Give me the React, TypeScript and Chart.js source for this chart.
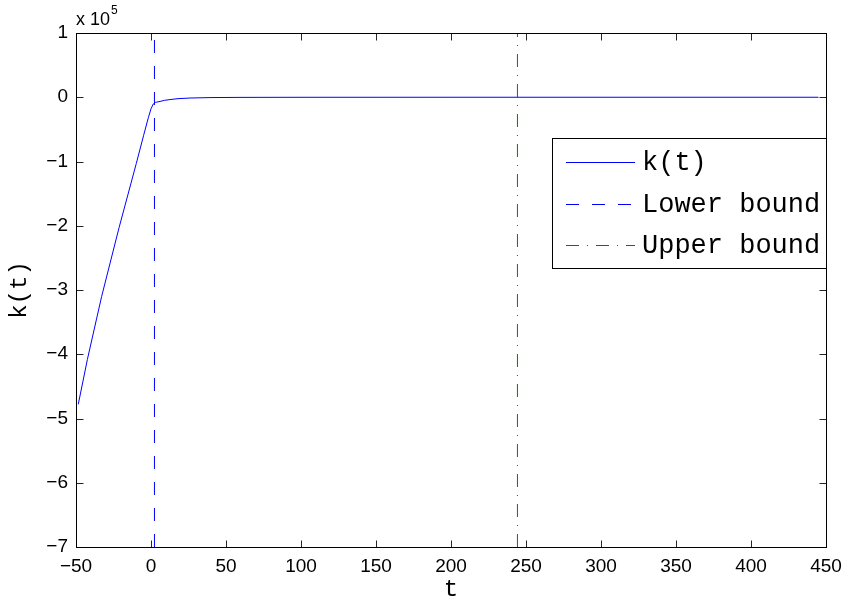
import React, { useEffect, useRef } from "react";
import { Chart, registerables } from "chart.js";

Chart.register(...registerables);

// k(t) curve samples (t, value)
const kT: number[] = [-48.5, -42.4, -32.9, -21.3, -9.8, -5, -1.8, 0, 1.5, 3, 6, 9, 12.7, 18, 26, 40, 60, 100, 200, 300, 445];
const kValues: number[] = [-478000, -408000, -310000, -203000, -103000, -60000, -32000, -18000, -10500, -8000, -6500, -4800, -3600, -2200, -1200, -500, -200, -50, 0, 0, 0];

const lowerBoundT = 2.3;
const upperBoundT = 244.3;

const xRange: number[] = [-50, 450];
const yRange: number[] = [-700000, 100000];
const xStep = 50;
const yStep = 100000;

const seriesLabels: string[] = ["k(t)", "Lower bound", "Upper bound"];
const xTitle = "t";
const yTitle = "k(t)";

const fmt = (v: number) => (v < 0 ? "\u2212" + String(Math.abs(v)) : String(v));

const matlabPlugin = {
  id: "matlab",
  afterDraw(chart: any) {
    const { ctx, chartArea: a, scales } = chart;
    const x = scales.x;
    const y = scales.y;
    const L = Math.round(a.left) + 0.5;
    const R = Math.round(a.right) + 0.5;
    const T = Math.round(a.top) + 0.5;
    const B = Math.round(a.bottom) + 0.5;
    ctx.save();
    // inward ticks
    ctx.strokeStyle = "#262626";
    ctx.lineWidth = 1;
    ctx.beginPath();
    x.ticks.forEach((t: any) => {
      const px = Math.round(x.getPixelForValue(t.value)) + 0.5;
      ctx.moveTo(px, B);
      ctx.lineTo(px, B - 7);
      ctx.moveTo(px, T);
      ctx.lineTo(px, T + 7);
    });
    y.ticks.forEach((t: any) => {
      const py = Math.round(y.getPixelForValue(t.value)) + 0.5;
      ctx.moveTo(L, py);
      ctx.lineTo(L + 7, py);
      ctx.moveTo(R, py);
      ctx.lineTo(R - 7, py);
    });
    ctx.stroke();
    // box
    ctx.strokeStyle = "#000";
    ctx.strokeRect(L, T, R - L, B - T);

    // exponent label
    ctx.fillStyle = "#000";
    ctx.textBaseline = "alphabetic";
    ctx.textAlign = "left";
    ctx.font = '18px "Liberation Sans"';
    const base = "x 10";
    ctx.fillText(base, 76, 25);
    const w = ctx.measureText(base).width;
    ctx.font = '12px "Liberation Sans"';
    ctx.fillText("5", 76 + w + 1, 14);

    // axis titles
    ctx.font = '24px "Liberation Mono"';
    ctx.textAlign = "center";
    ctx.textBaseline = "middle";
    ctx.fillText(xTitle, (a.left + a.right) / 2, 590);
    ctx.save();
    ctx.translate(20, (a.top + a.bottom) / 2);
    ctx.rotate(-Math.PI / 2);
    ctx.fillText(yTitle, 0, 0);
    ctx.restore();

    // legend
    const lx = 552.5, ly = 138.5, lw = R - lx, lh = 130;
    ctx.fillStyle = "#fff";
    ctx.fillRect(lx, ly, lw, lh);
    ctx.strokeStyle = "#000";
    ctx.setLineDash([]);
    ctx.strokeRect(lx, ly, lw, lh);
    const rows = [162, 204, 245];
    ctx.font = '27px "Liberation Mono"';
    ctx.textAlign = "left";
    ctx.textBaseline = "middle";
    chart.data.datasets.forEach((ds: any, i: number) => {
      const ry = rows[i] + 0.5;
      ctx.strokeStyle = ds.borderColor;
      ctx.lineWidth = 1;
      ctx.setLineDash(ds.borderDash || []);
      ctx.beginPath();
      ctx.moveTo(566, ry);
      ctx.lineTo(635, ry);
      ctx.stroke();
      ctx.setLineDash([]);
      ctx.fillStyle = "#000";
      ctx.fillText(ds.label, 642, rows[i] + 1);
    });
    ctx.restore();
  },
};

export default function App() {
  const ref = useRef<HTMLCanvasElement>(null);
  useEffect(() => {
    if (!ref.current) return;
    const chart = new Chart(ref.current, {
      type: "line",
      data: {
        datasets: [
          {
            label: seriesLabels[0],
            data: kT.map((t, i) => ({ x: t, y: kValues[i] })),
            borderColor: "#0000ff",
            borderWidth: 1,
            pointRadius: 0,
            tension: 0,
          },
          {
            label: seriesLabels[1],
            data: [
              { x: lowerBoundT, y: yRange[0] },
              { x: lowerBoundT, y: yRange[1] },
            ],
            borderColor: "#0000ff",
            borderWidth: 1,
            borderDash: [13, 13],
            pointRadius: 0,
          },
          {
            label: seriesLabels[2],
            data: [
              { x: upperBoundT, y: yRange[0] },
              { x: upperBoundT, y: yRange[1] },
            ],
            borderColor: "#008000",
            borderWidth: 1,
            borderDash: [13, 8, 1, 8],
            pointRadius: 0,
          },
        ],
      },
      options: {
        responsive: false,
        animation: false,
        layout: { padding: { left: 0, top: 33, right: 20, bottom: 0 } },
        plugins: { legend: { display: false }, tooltip: { enabled: false } },
        scales: {
          x: {
            type: "linear",
            min: xRange[0],
            max: xRange[1],
            grid: { display: false, drawTicks: false },
            border: { display: false },
            ticks: {
              stepSize: xStep,
              padding: 8,
              color: "#000",
              maxRotation: 0,
              font: { family: "Liberation Sans", size: 19 },
              callback: (v: any) => fmt(Number(v)),
            },
            afterFit: (s: any) => {
              s.height = 58;
              s.paddingLeft = 0;
              s.paddingRight = 0;
            },
          },
          y: {
            type: "linear",
            min: yRange[0],
            max: yRange[1],
            grid: { display: false, drawTicks: false },
            border: { display: false },
            ticks: {
              stepSize: yStep,
              padding: 8,
              color: "#000",
              font: { family: "Liberation Sans", size: 19 },
              callback: (v: any) => fmt(Math.round(Number(v) / 100000)),
            },
            afterFit: (s: any) => {
              s.width = 76;
              s.paddingTop = 0;
              s.paddingBottom = 0;
            },
          },
        },
      },
      plugins: [matlabPlugin],
    });
    return () => chart.destroy();
  }, []);
  return (
    <div style={{ position: "absolute", left: 0, top: 0, width: 846, height: 605, background: "#fff" }}>
      <canvas ref={ref} width={846} height={605} />
    </div>
  );
}
